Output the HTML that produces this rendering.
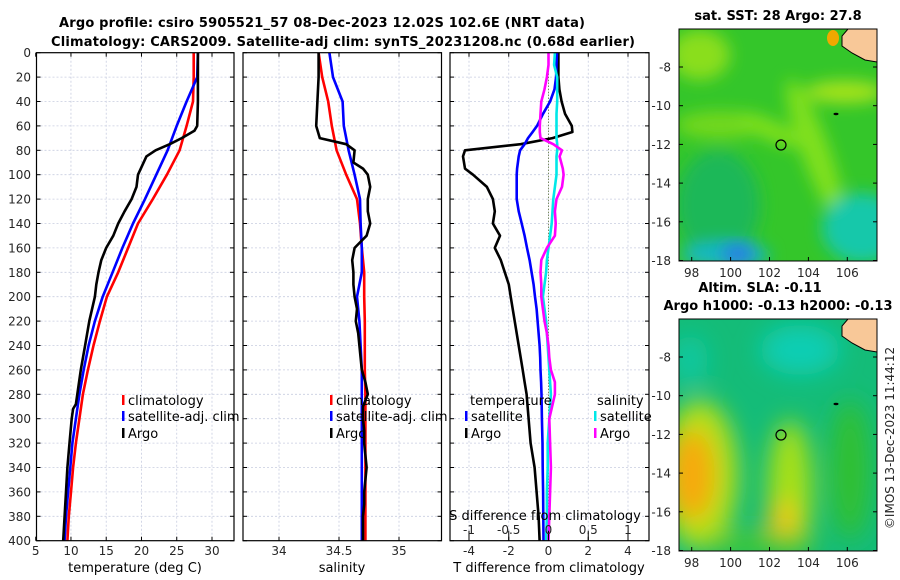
<!DOCTYPE html>
<html><head><meta charset="utf-8">
<style>
html,body{margin:0;padding:0;background:#fff;}
svg{display:block;font-family:"DejaVu Sans","Liberation Sans",sans-serif;}
.tk{font-size:12px;fill:#262626;}
.ttl{font-size:13px;font-weight:bold;fill:#000;}
.lg{font-size:13px;fill:#000;}
</style></head>
<body>
<svg id="chart" width="900" height="580" viewBox="0 0 900 580">
<defs>
<filter id="blur8" x="-50%" y="-50%" width="200%" height="200%"><feGaussianBlur stdDeviation="8"/></filter>
<filter id="blur12" x="-50%" y="-50%" width="200%" height="200%"><feGaussianBlur stdDeviation="12"/></filter>
<clipPath id="clipTop"><rect x="679" y="29" width="198" height="232"/></clipPath>
<clipPath id="clipBot"><rect x="679" y="319" width="198" height="232"/></clipPath>
</defs>
<text class="ttl" x="322" y="27" text-anchor="middle" textLength="526">Argo profile: csiro 5905521_57 08-Dec-2023 12.02S 102.6E (NRT data)</text>
<text class="ttl" x="343" y="46" text-anchor="middle" textLength="584">Climatology: CARS2009. Satellite-adj clim: synTS_20231208.nc (0.68d earlier)</text>
<g id="panels"></g>

<!-- SST map -->
<text class="ttl" x="778" y="20" text-anchor="middle">sat. SST: 28 Argo: 27.8</text>
<g clip-path="url(#clipTop)">
<rect x="679" y="29" width="198" height="232" fill="#34c62a"/>
<g filter="url(#blur8)">
<ellipse cx="700" cy="55" rx="30" ry="25" fill="#8ade1a"/>
<ellipse cx="720" cy="125" rx="45" ry="14" fill="#72d81c"/>
<ellipse cx="815" cy="150" rx="14" ry="75" fill="#80e01a" transform="rotate(-20 815 150)"/>
<ellipse cx="845" cy="92" rx="40" ry="11" fill="#a8e41a"/>
<ellipse cx="770" cy="130" rx="35" ry="10" fill="#80e01a" transform="rotate(25 770 130)"/>
<ellipse cx="718" cy="205" rx="42" ry="55" fill="#1eb858"/>
<ellipse cx="862" cy="228" rx="40" ry="35" fill="#16c8aa"/>
<ellipse cx="725" cy="255" rx="45" ry="12" fill="#18b8c8"/>
</g>
<ellipse cx="738" cy="254" rx="16" ry="9" fill="#2a78e8" filter="url(#blur8)"/>
<ellipse cx="833" cy="38" rx="6" ry="8" fill="#f0a800"/>
<path d="M848 29 L877 29 L877 62 L865 60 L852 53 L842 46 L842 36 Z" fill="#f8c898" stroke="#000" stroke-width="1"/>
<ellipse cx="836" cy="114" rx="2.5" ry="1.2" fill="#000"/>
<circle cx="781" cy="145" r="5" fill="none" stroke="#000" stroke-width="1.2"/>
</g>
<rect x="679" y="29" width="198" height="232" fill="none" stroke="#000" stroke-width="1"/>
<g id="sstAxes"></g>

<!-- SLA map -->
<text class="ttl" x="760" y="292" text-anchor="middle">Altim. SLA: -0.11</text>
<text class="ttl" x="778" y="310" text-anchor="middle">Argo h1000: -0.13 h2000: -0.13</text>
<g clip-path="url(#clipBot)">
<rect x="679" y="319" width="198" height="232" fill="#14bc78"/>
<g filter="url(#blur12)">
<ellipse cx="800" cy="350" rx="40" ry="25" fill="#0cceb4"/>
<ellipse cx="690" cy="360" rx="18" ry="25" fill="#10c8a0"/>
<ellipse cx="700" cy="475" rx="38" ry="75" fill="#b8e018"/>
<ellipse cx="692" cy="475" rx="22" ry="45" fill="#f8a810"/>
<ellipse cx="790" cy="490" rx="22" ry="70" fill="#a8e018"/>
<ellipse cx="783" cy="525" rx="16" ry="25" fill="#f0c818"/>
<ellipse cx="850" cy="470" rx="20" ry="70" fill="#30c030"/>
<ellipse cx="760" cy="545" rx="60" ry="12" fill="#40c830"/>
</g>
<path d="M848 319 L877 319 L877 352 L865 350 L852 343 L842 336 L842 326 Z" fill="#f8c898" stroke="#000" stroke-width="1"/>
<ellipse cx="836" cy="404" rx="2.5" ry="1.2" fill="#000"/>
<circle cx="781" cy="435" r="5" fill="none" stroke="#000" stroke-width="1.2"/>
</g>
<rect x="679" y="319" width="198" height="232" fill="none" stroke="#000" stroke-width="1"/>
<g id="slaAxes"></g>
<text class="tk" x="0" y="0" transform="translate(894 438) rotate(-90)" text-anchor="middle">©IMOS 13-Dec-2023 11:44:12</text>
</svg>

<script>
// ---------- data ----------
const depthTicks = [0,20,40,60,80,100,120,140,160,180,200,220,240,260,280,300,320,340,360,380,400];
const tempTicks = [5,10,15,20,25,30];
const salTicks = [34,34.5,35];
const salTickLabels = ["34","34.5","35"];
const tdiffTicks = [-4,-2,0,2,4];
const sdiffTicks = [-1,-0.5,0,0.5,1];
const sdiffTickLabels = ["-1","-0.5","0","0.5","1"];

const climDepth = [0,20,40,60,80,100,120,140,160,180,200,220,240,260,280,300,320,340,360,380,400];
const climTemp = [27.4,27.4,27.3,26.4,25.4,23.6,21.6,19.5,18.1,16.7,15.1,14.1,13.2,12.4,11.7,11.2,10.7,10.3,10.0,9.7,9.5];
const satTemp  = [28.0,27.9,26.4,25.0,23.7,22.1,20.5,18.8,17.3,15.9,14.5,13.4,12.5,11.8,11.2,10.7,10.2,9.9,9.6,9.3,9.1];
const argoDepth = [0,20,40,60,64,70,75,80,85,100,110,120,130,140,150,160,170,180,190,200,220,240,260,280,288,292,300,320,340,360,380,400];
const argoTemp  = [28,28,28,27.9,27.5,25.7,24,22,20.7,19.5,19.3,18.6,17.6,16.7,16,15,14.3,13.9,13.6,13.4,12.6,12,11.4,10.9,10.7,10.3,10.1,9.8,9.5,9.3,9.1,8.9];

const climSal = [34.33,34.36,34.41,34.44,34.48,34.56,34.65,34.675,34.69,34.71,34.71,34.715,34.715,34.715,34.72,34.72,34.72,34.72,34.72,34.72,34.72];
const satSal  = [34.42,34.45,34.53,34.54,34.58,34.63,34.675,34.68,34.69,34.69,34.65,34.67,34.68,34.69,34.69,34.69,34.69,34.69,34.69,34.69,34.69];
const argoSalDepth = [0,20,40,60,70,75,80,90,95,100,110,120,130,140,150,160,170,180,190,200,210,220,230,240,250,260,270,280,290,300,310,320,330,340,350,360,370,380,390,400];
const argoSal = [34.33,34.33,34.32,34.31,34.34,34.56,34.63,34.62,34.70,34.74,34.76,34.74,34.74,34.76,34.73,34.63,34.61,34.62,34.62,34.63,34.65,34.64,34.66,34.67,34.68,34.69,34.72,34.74,34.70,34.70,34.71,34.71,34.72,34.73,34.72,34.71,34.71,34.70,34.70,34.70];

const diffDepth = [0,10,20,30,40,50,60,65,70,75,80,85,95,100,110,120,130,140,150,160,170,180,190,200,210,220,230,240,250,260,270,280,300,320,340,360,380,400];
const argoTdiff = [0.5,0.5,0.5,0.55,0.66,0.83,1.17,1.2,0.2,-1.4,-4.2,-4.3,-4.2,-3.8,-3.1,-2.8,-2.7,-2.8,-2.44,-2.7,-2.4,-2.2,-2.0,-1.9,-1.8,-1.7,-1.6,-1.5,-1.4,-1.3,-1.2,-1.1,-1.0,-0.9,-0.7,-0.6,-0.5,-0.45];
const satTdiff  = [0.43,0.4,0.38,0.3,0.08,-0.27,-0.58,-0.8,-1.03,-1.2,-1.43,-1.5,-1.58,-1.6,-1.6,-1.6,-1.5,-1.35,-1.2,-1.08,-0.95,-0.85,-0.75,-0.68,-0.6,-0.55,-0.5,-0.45,-0.42,-0.4,-0.37,-0.35,-0.33,-0.3,-0.29,-0.27,-0.26,-0.25];
const satSdiff  = [0.08,0.07,0.11,0.11,0.11,0.1,0.1,0.1,0.1,0.11,0.11,0.1,0.1,0.1,0.08,0.06,0.05,0.04,0.02,0.0,-0.02,-0.03,-0.05,-0.07,-0.05,-0.03,-0.02,-0.01,0.0,0.01,0.02,0.03,0.01,-0.01,-0.01,-0.02,-0.02,-0.03];
const argoSdiff = [0.0,0.0,-0.02,-0.05,-0.09,-0.1,-0.11,-0.11,-0.1,0.06,0.17,0.14,0.18,0.19,0.17,0.1,0.08,0.09,0.08,-0.02,-0.09,-0.1,-0.09,-0.09,-0.07,-0.05,-0.02,0.0,0.01,0.03,0.08,0.08,0.01,0.02,0.03,0.02,0.01,0.0];

const mapLonTicks = [98,100,102,104,106];
const mapLatTicks = [-8,-10,-12,-14,-16,-18];

// ---------- helpers ----------
const NS = "http://www.w3.org/2000/svg";
const root = document.getElementById("panels");
function el(tag, attrs, parent){ const e=document.createElementNS(NS,tag); for(const k in attrs) e.setAttribute(k,attrs[k]); (parent||root).appendChild(e); return e; }
const yTop=52.7, yBot=540.7;
const yD = d => yTop + (d/400)*(yBot-yTop);
function lin(d0,d1,r0,r1){ return v => r0 + (v-d0)/(d1-d0)*(r1-r0); }

const panels = [
  {x0:36.5, x1:234, name:"temperature-panel", sx: lin(5,30,35.7,212)},
  {x0:243, x1:441.5, name:"salinity-panel", sx: lin(34,35,279,399)},
  {x0:450, x1:649, name:"difference-panel", sx: lin(-4,4,469,628)}
];
const sdx = lin(-1,1,469,628);

panels.forEach((p,i)=>{
  const g = el("g",{});
  
  
  depthTicks.forEach(d=>{
    if(d>0 && d<400){ const l=el("line",{x1:p.x0,x2:p.x1,y1:yD(d),y2:yD(d),stroke:"#c8cde0","stroke-width":0.8,"stroke-dasharray":"2,2"},g);
        }
  });
  const xt = i===0?tempTicks:(i===1?salTicks:tdiffTicks);
  xt.forEach((v,k)=>{
    const x=p.sx(v);
    if(x>p.x0+1 && x<p.x1-1){ const l=el("line",{x1:x,x2:x,y1:yTop,y2:yBot,stroke:"#c8cde0","stroke-width":0.8,"stroke-dasharray":"2,2"},g);
        }
    el("line",{x1:x,x2:x,y1:yBot,y2:yBot-4,stroke:"#000","stroke-width":1},g);
    el("line",{x1:x,x2:x,y1:yTop,y2:yTop+4,stroke:"#000","stroke-width":1},g);
    const t=el("text",{x:x,y:555,"text-anchor":"middle",class:"tk"},g);
    t.textContent = i===1?salTickLabels[k]:String(v);
     
  });
  depthTicks.forEach(d=>{
    el("line",{x1:p.x0,x2:p.x0+4,y1:yD(d),y2:yD(d),stroke:"#000","stroke-width":1},g);
    el("line",{x1:p.x1,x2:p.x1-4,y1:yD(d),y2:yD(d),stroke:"#000","stroke-width":1},g);
    if(i===0){ const t=el("text",{x:31,y:yD(d)+4.5,"text-anchor":"end",class:"tk"},g); t.textContent=String(d);
        }
  });
  p.g = g;
});

{ const l=el("line",{x1:panels[2].sx(0),x2:panels[2].sx(0),y1:yTop,y2:yBot,stroke:"#556b2f","stroke-width":1,"stroke-dasharray":"1,2"});
    }

function series(depths, vals, sx, color, name, w){
  const pts = depths.map((d,k)=> sx(vals[k]).toFixed(1)+","+yD(d).toFixed(1)).join(" ");
  const pl = el("polyline",{points:pts,fill:"none",stroke:color,"stroke-width":w||2.6,"stroke-linejoin":"round"});
  
  
}
const P=panels;
series(climDepth, climTemp, P[0].sx, "#ff0000", "climatology-temperature-line");
series(climDepth, satTemp, P[0].sx, "#0000ff", "satellite-temperature-line");
series(argoDepth, argoTemp, P[0].sx, "#000000", "argo-temperature-line");
series(climDepth, climSal, P[1].sx, "#ff0000", "climatology-salinity-line");
series(climDepth, satSal, P[1].sx, "#0000ff", "satellite-salinity-line");
series(argoSalDepth, argoSal, P[1].sx, "#000000", "argo-salinity-line");
series(diffDepth, argoTdiff, P[2].sx, "#000000", "argo-temperature-difference-line");
series(diffDepth, satTdiff, P[2].sx, "#0000ff", "satellite-temperature-difference-line");
series(diffDepth, satSdiff, sdx, "#00e8e8", "satellite-salinity-difference-line");
series(diffDepth, argoSdiff, sdx, "#ff00ff", "argo-salinity-difference-line");

panels.forEach(p=>{ const r=el("rect",{x:p.x0,y:yTop,width:p.x1-p.x0,height:yBot-yTop,fill:"none",stroke:"#000","stroke-width":1.2});
    });

[["temperature (deg C)",135,"temperature-axis-title"],["salinity",342,"salinity-axis-title"],["T difference from climatology",549,"t-difference-axis-title"]].forEach(a=>{
  const t=el("text",{x:a[1],y:572,"text-anchor":"middle",class:"lg"}); t.textContent=a[0];
   
});
{ const t=el("text",{x:545,y:520,"text-anchor":"middle",class:"lg"}); t.textContent="S difference from climatology";
    }
sdiffTicks.forEach((v,k)=>{
  const x=sdx(v);
  el("line",{x1:x,x2:x,y1:yBot,y2:yBot-10,stroke:"#000","stroke-width":1});
  const t=el("text",{x:x,y:534,"text-anchor":"middle",class:"tk"}); t.textContent=sdiffTickLabels[k];
   
});

function legend(x,y,color,label,name){
  const g=el("g",{});  
  el("rect",{x:x,y:y-10,width:2.5,height:10,fill:color},g);
  const t=el("text",{x:x+6,y:y,class:"lg"},g); t.textContent=label;
}
[[122,"climatology-legend"],[330,"salinity-climatology-legend"]].forEach(L=>{
  legend(L[0],405,"#ff0000","climatology",L[1]+"-entry");
  legend(L[0],421,"#0000ff","satellite-adj. clim",L[1]+"-satellite-entry");
  legend(L[0],438,"#000000","Argo",L[1]+"-argo-entry");
});
{ const t=el("text",{x:470,y:405,class:"lg"}); t.textContent="temperature";  
  const s=el("text",{x:597,y:405,class:"lg"}); s.textContent="salinity";   }
legend(465,421,"#0000ff","satellite","t-diff-satellite-legend");
legend(465,438,"#000000","Argo","t-diff-argo-legend");
legend(594,421,"#00e8e8","satellite","s-diff-satellite-legend");
legend(594,438,"#ff00ff","Argo","s-diff-argo-legend");

function mapAxes(gid, top){
  const g=document.getElementById(gid);
  const lonX = lin(98,106,691.7,847.3);
  const latY = lin(-8,-18,top+38,top+231.5);
  mapLonTicks.forEach(v=>{
    const x=lonX(v);
    el("line",{x1:x,x2:x,y1:top+232,y2:top+228,stroke:"#000"},g);
    const t=el("text",{x:x,y:top+248,"text-anchor":"middle",class:"tk"},g); t.textContent=String(v);
     
  });
  mapLatTicks.forEach(v=>{
    const y=latY(v);
    el("line",{x1:877,x2:873,y1:y,y2:y,stroke:"#000"},g);
    el("line",{x1:679,x2:683,y1:y,y2:y,stroke:"#000"},g);
    const t=el("text",{x:671,y:y+4.5,"text-anchor":"end",class:"tk"},g); t.textContent=String(v);
     
  });
}
mapAxes("sstAxes",29);
mapAxes("slaAxes",319);
</script>
</body></html>
